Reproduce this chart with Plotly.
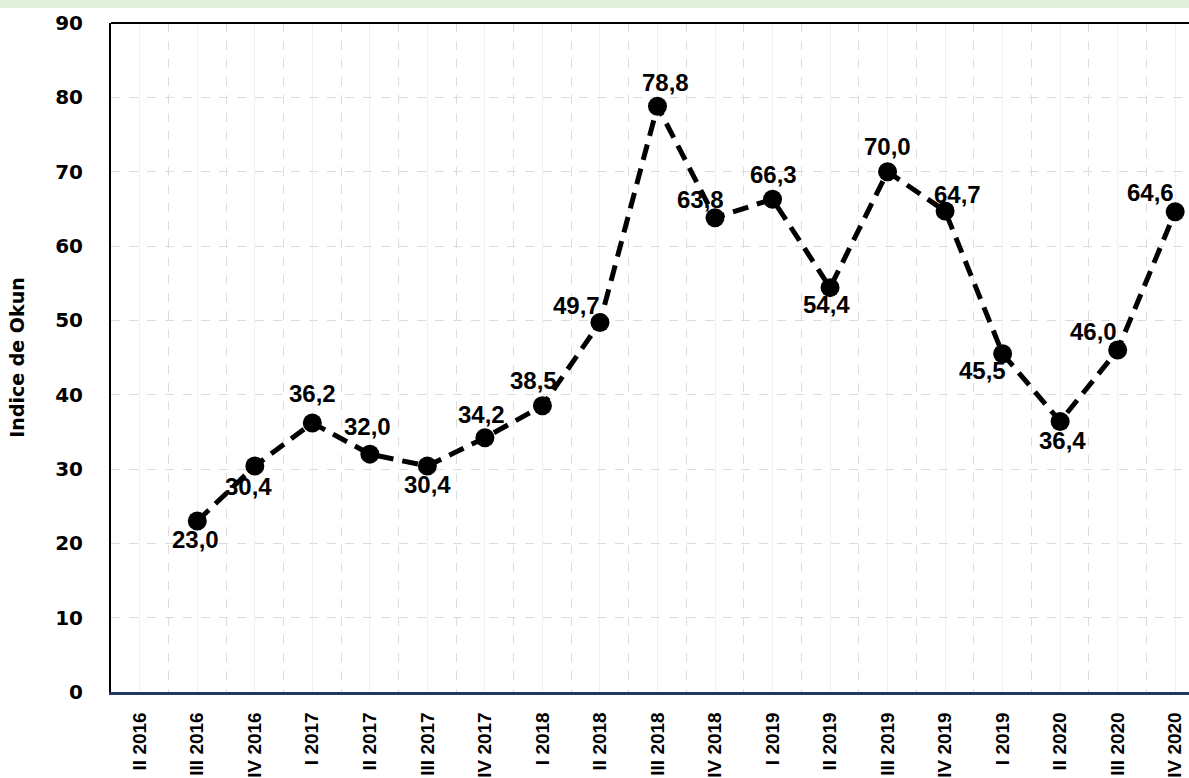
import plotly.graph_objects as go

categories = ["II 2016", "III 2016", "IV 2016", "I 2017", "II 2017", "III 2017", "IV 2017",
              "I 2018", "II 2018", "III 2018", "IV 2018", "I 2019", "II 2019", "III 2019",
              "IV 2019", "I 2019", "II 2020", "III 2020", "IV 2020"]
okun = [None, 23.0, 30.4, 36.2, 32.0, 30.4, 34.2, 38.5, 49.7, 78.8, 63.8, 66.3, 54.4,
        70.0, 64.7, 45.5, 36.4, 46.0, 64.6]
y_ticks = [0, 10, 20, 30, 40, 50, 60, 70, 80, 90]

# label offsets in pixels (dx, dy) relative to the point
label_offsets = [None, (-2, 18), (-6, 20), (0, -29), (-2, -28), (0, 18), (-3, -23), (-9, -25),
                 (-23, -17), (8, -24), (-15, -18), (1, -25), (-4, 17), (0, -25), (12, -17),
                 (-20, 17), (2, 19), (-24, -19), (-25, -19)]

xs = list(range(len(categories)))

fig = go.Figure()
fig.add_trace(go.Scatter(
    x=xs, y=okun, mode="lines+markers",
    line=dict(color="black", width=5, dash="16px,9px"),
    marker=dict(color="black", size=19),
    connectgaps=False, showlegend=False, hoverinfo="skip"))

for i, (x, v) in enumerate(zip(xs, okun)):
    if v is None:
        continue
    dx, dy = label_offsets[i]
    fig.add_annotation(x=x, y=v, text=f"{v:.1f}".replace(".", ","), showarrow=False,
                       xshift=dx, yshift=-dy,
                       font=dict(family="Liberation Sans, Arial", size=24, color="black", weight="bold"))

W, H = 1189, 778
ml, mt, mb, mr = 111, 23, 84, 0
pw, ph = W - ml - mr, H - mt - mb

fig.update_layout(
    width=W, height=H,
    margin=dict(l=ml, r=mr, t=mt, b=mb),
    paper_bgcolor="white", plot_bgcolor="white",
    xaxis=dict(
        range=[-0.5, 18.24], tickmode="array", tickvals=xs, ticktext=categories,
        tickangle=-90, showgrid=True, gridcolor="#f0f0f0", gridwidth=1,
        minor=dict(tick0=0.5, dtick=1, showgrid=True, gridcolor="#dcdcdc", griddash="dash", gridwidth=1),
        showline=True, linecolor="#1f3864", linewidth=2.5, ticks="", zeroline=False,
        ticklabelstandoff=10,
        tickfont=dict(family="Liberation Sans, Arial", size=19, color="black", weight="bold")),
    yaxis=dict(
        range=[0, 90], tickvals=y_ticks, showgrid=True, gridcolor="#dcdcdc", griddash="dash",
        showline=True, linecolor="black", linewidth=2, mirror=False, ticks="", zeroline=False,
        ticklabelstandoff=22,
        tickfont=dict(family="DejaVu Sans, Tahoma", size=20, color="black", weight="bold"),
        title=dict(text="Indice de Okun", standoff=26,
                   font=dict(family="DejaVu Sans, Tahoma", size=19, color="black", weight="bold"))),
    shapes=[
        dict(type="rect", xref="paper", yref="paper", x0=-ml / pw, x1=1.0,
             y0=1 + (mt - 8) / ph, y1=1 + mt / ph, fillcolor="#e2efda", line=dict(width=0), layer="below"),
        dict(type="line", xref="paper", yref="paper", x0=0, x1=1, y0=1, y1=1,
             line=dict(color="black", width=2)),
    ],
)

fig.write_html("out.html", config={"displayModeBar": False},
               post_script="document.body.style.margin='0';document.body.style.overflow='hidden';")
